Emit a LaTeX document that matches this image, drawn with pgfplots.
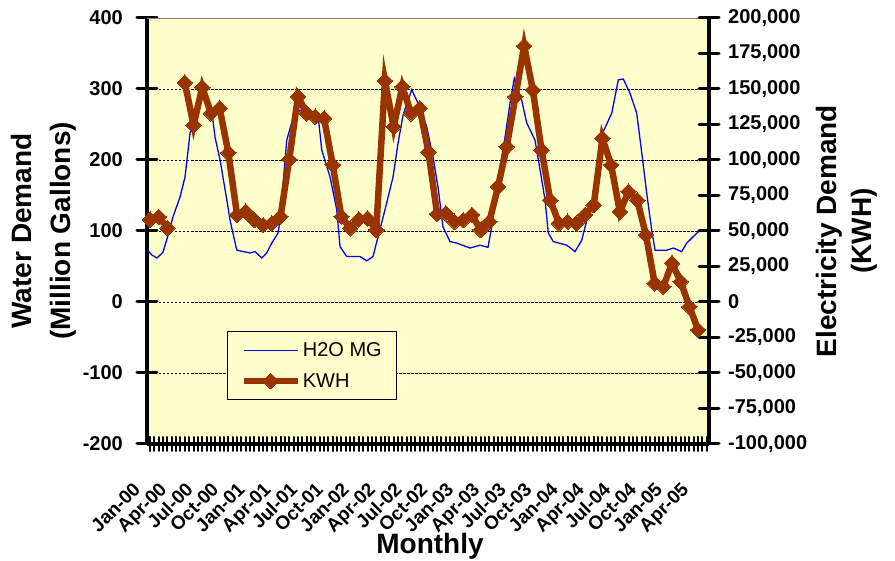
\documentclass[border=0pt]{standalone}
\usepackage{pgfplots}
\pgfplotsset{compat=1.18}
\usepackage{fontspec}
\setmainfont{Liberation Sans}
\definecolor{bgyellow}{HTML}{FFFFCC}
\definecolor{kwhbrown}{HTML}{993300}

% water demand, million gallons (x = months since Jan-00)
\pgfplotstableread{
x v
-0.30 73
0.23 66
0.80 62
1.49 70
2.07 94
2.64 120
3.45 148
4.02 176
4.60 238
5.17 263
5.75 285
6.44 292
7.09 270
7.47 232
8.05 200
8.82 144
9.20 115
9.97 73
11.49 69
12.07 71
12.84 62
13.41 69
13.99 83
14.71 97
14.94 115
15.71 228
16.44 259
17.24 270
18.39 268
19.31 263
19.74 214
20.69 176
21.46 130
21.84 78
22.61 64
24.14 64
24.91 58
25.63 64
26.21 92
27.01 130
27.93 176
28.51 224
29.08 263
30.08 299
30.80 280
31.80 247
32.53 204
33.10 162
33.67 106
34.48 85
35.25 83
36.78 76
37.93 80
38.85 77
39.27 106
39.85 162
40.80 232
41.38 280
41.87 315
42.30 299
42.72 284
43.30 252
44.25 228
44.83 186
45.40 144
45.78 97
46.36 85
47.90 80
48.85 71
49.62 87
50.20 115
50.95 144
51.92 235
53.07 266
53.83 313
54.40 314
55.17 294
55.94 266
56.52 210
57.09 153
57.67 101
58.05 73
59.39 73
60.15 76
61.11 71
61.69 83
63.02 99
64.14 101
}\water

% electricity demand, kWh, monthly
\pgfplotstableread{
x kwh
0 58000
1 60000
2 52000
3 nan
4 154400
5 124600
6 151200
7 132900
8 136400
9 105100
10 61300
11 63600
12 57700
13 54200
14 55400
15 60100
16 100500
17 144600
18 132900
19 130500
20 129400
21 96500
22 60100
23 51900
24 58200
25 58900
26 50700
27 155800
28 123400
29 151600
30 132900
31 136400
32 105600
33 62000
34 62500
35 56500
36 57700
37 61300
38 50700
39 56500
40 81200
41 109400
42 144600
43 180300
44 149300
45 107000
46 71800
47 55400
48 56500
49 55400
50 61300
51 68300
52 115300
53 96500
54 63600
55 77700
56 71800
57 47200
58 13200
59 10800
60 27300
61 14300
62 -3300
63 -19700
}\kwh

\begin{document}
\begin{tikzpicture}
\path[use as bounding box] (0,0) rectangle (895pt,561pt);
\pgfplotsset{
  common/.style={
    at={(147pt,117pt)}, anchor=south west,
    width=562pt, height=426pt, scale only axis,
    xmin=-0.35, xmax=64.25,
    tick align=center,
    axis line style={line width=3.5pt, black},
    ticklabel style={font=\fontsize{20}{24}\selectfont\bfseries},
  },
}
% background, grid, left axis, water
\begin{axis}[
  common,
  ymin=-200, ymax=400,
  axis background/.style={fill=bgyellow},
  axis x line=none, axis y line*=left,
  ytick={-200,-100,...,400},
  yticklabels={-200,-100,0,100,200,300,400},
  extra y ticks={-100,0,100,200,300},
  extra y tick labels={},
  extra y tick style={grid=major, major tick length=0pt},
  grid style={black, line width=0.8pt, dash pattern=on 2.5pt off 1.5pt},
  ytick style={line width=3pt, line cap=round, black},
  major tick length=20pt,
  yticklabel style={anchor=east, inner sep=0pt, xshift=-14pt},
  ylabel={Water Demand\\(Million Gallons)},
  ylabel style={at={(axis description cs:-0.184,0.5)}, anchor=center, align=center, font=\fontsize{28}{39}\selectfont\bfseries},
]
\draw[gray, line width=0.8pt] (rel axis cs:0,1) -- (rel axis cs:1,1);
\addplot[blue, line width=1.3pt, no marks] table[x=x, y=v] {\water};
\end{axis}
% month axis: line and ticks
\begin{axis}[
  common,
  ymin=0, ymax=1,
  axis x line*=bottom, axis y line=none,
  xtick={0,3,...,63},
  xticklabels={},
  minor xtick={0,0.5,...,64},
  major tick length=14pt, minor tick length=14pt,
  xtick style={line width=2pt, line cap=round, black},
  xlabel={Monthly},
  xlabel style={at={(axis description cs:0.5036,-0.239)}, anchor=center, font=\fontsize{28}{34}\selectfont\bfseries},
]
\end{axis}
% month labels, set off below and to the left of their ticks
\begin{axis}[
  common,
  at={(129pt,80pt)},
  ymin=0, ymax=1,
  axis x line*=bottom, axis y line=none,
  axis line style={draw=none},
  xtick={0,3,...,63},
  xticklabels={Jan-00,Apr-00,Jul-00,Oct-00,Jan-01,Apr-01,Jul-01,Oct-01,Jan-02,Apr-02,Jul-02,Oct-02,Jan-03,Apr-03,Jul-03,Oct-03,Jan-04,Apr-04,Jul-04,Oct-04,Jan-05,Apr-05},
  major tick length=0pt,
  xtick style={draw=none},
  xticklabel style={rotate=45, anchor=north east, inner sep=0pt, font=\fontsize{19}{22}\selectfont\bfseries},
]
\end{axis}
% right axis, electricity
\begin{axis}[
  common,
  clip=false,
  ymin=-100000, ymax=200000,
  scaled y ticks=false,
  axis y line*=right, axis x line=none,
  ytick={-100000,-75000,...,200000},
  yticklabels={{-100,000},{-75,000},{-50,000},{-25,000},0,{25,000},{50,000},{75,000},{100,000},{125,000},{150,000},{175,000},{200,000}},
  ytick style={line width=3pt, line cap=round, black},
  major tick length=20pt,
  yticklabel style={anchor=west, inner sep=0pt, xshift=9pt},
  ylabel={Electricity Demand\\(KWH)},
  ylabel style={at={(axis description cs:1.2456,0.5)}, anchor=center, align=center, rotate=0, font=\fontsize{28}{35}\selectfont\bfseries},
  unbounded coords=jump,
  legend style={at={(0.142,0.103)}, anchor=south west, fill=bgyellow, draw=black, line width=1.2pt,
    font=\fontsize{20}{24}\selectfont, inner xsep=13pt, inner ysep=9pt, row sep=11pt},
  legend cell align=left,
  legend image code/.code={\draw[mark repeat=2, mark phase=2, #1] plot coordinates {(0pt,0pt) (27pt,0pt) (54pt,0pt)};},
]
\addlegendimage{blue, line width=1.3pt, no marks}
\addlegendentry{H2O MG}
\addplot[kwhbrown, line width=6.5pt, mark=square*, mark size=5.5pt, mark options={rotate=45, line width=0pt, fill=kwhbrown}] table[x=x, y=kwh] {\kwh};
\addlegendentry{KWH}
\end{axis}
\end{tikzpicture}
\end{document}
